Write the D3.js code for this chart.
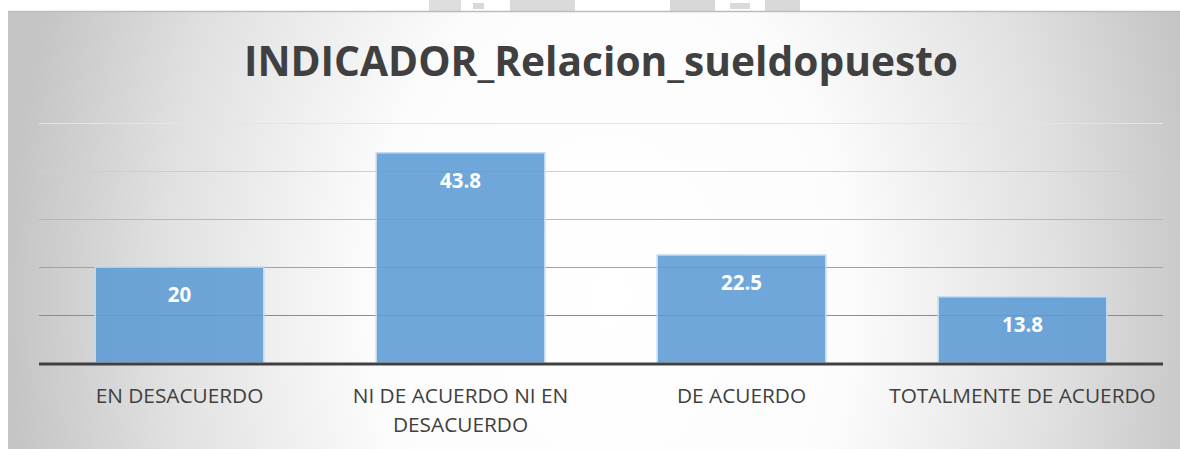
<!DOCTYPE html>
<html>
<head>
<meta charset="utf-8">
<script src="https://cdn.jsdelivr.net/npm/d3@7"></script>
<style>
  html, body { margin: 0; padding: 0; background: #fff; }
  svg { display: block; }
</style>
</head>
<body>
<div id="chart"></div>
<script>
// chart data
const titleText = "INDICADOR_Relacion_sueldopuesto";
const categories = ["EN DESACUERDO", "NI DE ACUERDO NI EN DESACUERDO", "DE ACUERDO", "TOTALMENTE DE ACUERDO"];
const values = [20, 43.8, 22.5, 13.8];
const gridValues = [10, 20, 30, 40, 50];
const yMax = 50;

const W = 1180, H = 449;
const box = {x: 8, y: 11};
const plot = {left: 39, right: 1163, top: 123, bottom: 363};

const svg = d3.select("#chart").append("svg")
    .attr("width", W)
    .attr("height", H);

const defs = svg.append("defs");

// background: white in the middle, gray towards the edges
const bg = defs.append("radialGradient")
    .attr("id", "bgGrad")
    .attr("gradientUnits", "userSpaceOnUse")
    .attr("cx", 610).attr("cy", 300).attr("r", 600)
    .attr("gradientTransform", "translate(610,300) scale(1,1.4) translate(-610,-300)");
bg.selectAll("stop")
    .data([[0, "#ffffff"], [0.4, "#fcfcfc"], [0.75, "#e0e0e0"], [1, "#c5c5c5"]])
    .enter().append("stop")
    .attr("offset", d => d[0])
    .attr("stop-color", d => d[1]);

// gridlines get darker towards the axis
const gg = defs.append("linearGradient")
    .attr("id", "gridGrad")
    .attr("gradientUnits", "userSpaceOnUse")
    .attr("x1", 0).attr("x2", 0)
    .attr("y1", plot.top).attr("y2", 315);
gg.append("stop").attr("offset", 0).attr("stop-color", "#e4e4e4");
gg.append("stop").attr("offset", 1).attr("stop-color", "#8c8c8c");

// faint watermark pieces above the chart
const wm = svg.append("g").attr("class", "watermark");
[[429, 32, 0, 11, "#dedede"], [473, 11, 3, 6, "#d8d8d8"], [510, 65, 0, 11, "#dadada"],
 [670, 45, 0, 11, "#d8d8d8"], [730, 20, 3, 6, "#dadada"], [765, 35, 0, 11, "#d9d9d9"]]
    .forEach(r => wm.append("rect")
        .attr("x", r[0]).attr("width", r[1])
        .attr("y", r[2]).attr("height", r[3])
        .attr("fill", r[4]));

svg.append("rect")
    .attr("x", box.x).attr("y", box.y)
    .attr("width", W - box.x + 2).attr("height", H - box.y + 2)
    .attr("fill", "url(#bgGrad)");

svg.append("line")
    .attr("x1", box.x).attr("x2", W)
    .attr("y1", box.y + 0.5).attr("y2", box.y + 0.5)
    .attr("stroke", "#bcbcbc")
    .attr("stroke-width", 1.5);

const x = d3.scaleBand()
    .domain(categories)
    .range([plot.left, plot.right])
    .paddingInner(0.4)
    .paddingOuter(0.2);

const y = d3.scaleLinear()
    .domain([0, yMax])
    .range([plot.bottom, plot.top]);

// gridlines
svg.append("g")
    .attr("class", "grid")
    .selectAll("line")
    .data(gridValues)
    .enter().append("line")
    .attr("x1", plot.left)
    .attr("x2", plot.right)
    .attr("y1", d => Math.round(y(d)) + 0.5)
    .attr("y2", d => Math.round(y(d)) + 0.5 + 0.001)
    .attr("stroke", "url(#gridGrad)")
    .attr("stroke-width", 1.2);

// bars
svg.append("g")
    .attr("class", "bars")
    .selectAll("rect")
    .data(values)
    .enter().append("rect")
    .attr("x", (d, i) => x(categories[i]))
    .attr("y", d => y(d))
    .attr("width", x.bandwidth())
    .attr("height", d => plot.bottom - y(d))
    .attr("fill", "#5b9bd5")
    .attr("fill-opacity", 0.88)
    .attr("stroke", "#c3dbf0")
    .attr("stroke-width", 1.5);

// value labels
svg.append("g")
    .attr("class", "labels")
    .selectAll("text")
    .data(values)
    .enter().append("text")
    .attr("x", (d, i) => x(categories[i]) + x.bandwidth() / 2)
    .attr("y", d => y(d) + 35)
    .attr("text-anchor", "middle")
    .attr("font-family", "'Open Sans', sans-serif")
    .attr("font-weight", "bold")
    .attr("font-size", 20.5)
    .attr("fill", "#ffffff")
    .text(d => d);

// category axis line
svg.append("line")
    .attr("x1", plot.left).attr("x2", plot.right)
    .attr("y1", plot.bottom + 1).attr("y2", plot.bottom + 1)
    .attr("stroke", "#404040")
    .attr("stroke-width", 3.2);

// category labels, wrapped to the band step
const step = x.step();
const catG = svg.append("g").attr("class", "categories");
categories.forEach(c => {
    const cx = x(c) + x.bandwidth() / 2;
    const t = catG.append("text")
        .attr("x", cx)
        .attr("y", 403)
        .attr("text-anchor", "middle")
        .attr("font-family", "'Open Sans', sans-serif")
        .attr("font-size", 20.8)
        .attr("fill", "#404040");
    const words = c.split(" ");
    let line = [];
    let ts = t.append("tspan").attr("x", cx).attr("dy", 0);
    words.forEach(w => {
        line.push(w);
        ts.text(line.join(" "));
        if (ts.node().getComputedTextLength() > step - 6 && line.length > 1) {
            line.pop();
            ts.text(line.join(" "));
            line = [w];
            ts = t.append("tspan")
                .attr("x", cx)
                .attr("dy", 29)
                .text(w);
        }
    });
});

// title
svg.append("text")
    .attr("x", (plot.left + plot.right) / 2)
    .attr("y", 76)
    .attr("text-anchor", "middle")
    .attr("font-family", "'Open Sans', sans-serif")
    .attr("font-weight", "bold")
    .attr("font-size", 40.7)
    .attr("fill", "#404040")
    .text(titleText);
</script>
</body>
</html>
